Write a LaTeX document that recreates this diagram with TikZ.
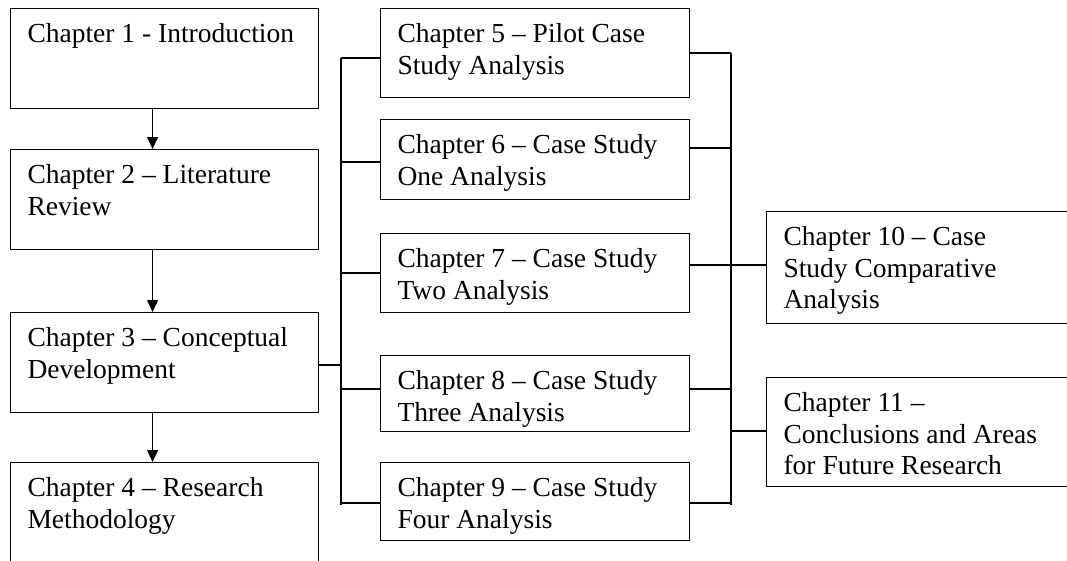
\documentclass[tikz,border=0pt]{standalone}
\usepackage{fontspec}
\setmainfont{Liberation Serif}
\usetikzlibrary{arrows.meta}

% Chapter box: name, left, top, width, height, text (units are pt, y grows downward)
\newcommand\chapbox[6]{%
  \node[chapter] (#1) at (#2,#3)
    {\parbox[t][\dimexpr#5pt-30pt\relax][t]{\dimexpr#4pt-34pt\relax}{\raggedright #6}};}

\begin{document}
\begin{tikzpicture}[x=1pt,y=-1pt,
  chapter/.style={draw, line width=1.1pt, anchor=north west, inner xsep=17pt,
    inner ysep=15pt, font=\fontsize{27.5}{31.6}\selectfont},
  link/.style={line width=1.1pt},
  flow/.style={line width=1.1pt, -{Triangle[length=12pt,width=11pt]}}]
\useasboundingbox (0,0) rectangle (1067,560);

% left column
\chapbox{c1}{10}{8}{308}{100}{Chapter 1 - Introduction}
\chapbox{c2}{10}{149}{308}{100}{Chapter 2 – Literature\\Review}
\chapbox{c3}{10}{312}{308}{100}{Chapter 3 – Conceptual\\Development}
\chapbox{c4}{10}{462}{308}{110}{Chapter 4 – Research\\Methodology}

% case study column
\chapbox{c5}{380}{8}{309}{89}{Chapter 5 – Pilot Case\\Study Analysis}
\chapbox{c6}{380}{119}{309}{80}{Chapter 6 – Case Study\\One Analysis}
\chapbox{c7}{380}{233}{309}{79}{Chapter 7 – Case Study\\Two Analysis}
\chapbox{c8}{380}{355}{309}{76}{Chapter 8 – Case Study\\Three Analysis}
\chapbox{c9}{380}{462}{309}{78}{Chapter 9 – Case Study\\Four Analysis}

% synthesis column
\chapbox{c10}{766}{211}{320}{112}{Chapter 10 – Case\\Study Comparative\\Analysis}
\chapbox{c11}{766}{377}{320}{109}{Chapter 11 –\\Conclusions and Areas\\for Future Research}

% sequential flow
\draw[flow] ([xshift=-12pt]c1.south) -- ([xshift=-12pt]c2.north);
\draw[flow] ([xshift=-12pt]c2.south) -- ([xshift=-12pt]c3.north);
\draw[flow] ([xshift=-12pt]c3.south) -- ([xshift=-12pt]c4.north);

% left bus
\coordinate (lt) at (341,58);
\coordinate (lb) at (341,505);
\draw[link] (lt) -- (lb);
\draw[link] (c3.east |- 0,365) -- (lt |- 0,365);
\draw[link] (lt) -- (c5.west |- lt);
\draw[link] (lt |- 0,162) -- (c6.west |- 0,162);
\draw[link] (lt |- 0,273) -- (c7.west |- 0,273);
\draw[link] (lt |- 0,389) -- (c8.west |- 0,389);
\draw[link] (lt |- 0,503) -- (c9.west |- 0,503);

% right bus
\coordinate (rt) at (731,53);
\coordinate (rb) at (731,505);
\draw[link] (rt) -- (rb);
\draw[link] (c5.east |- rt) -- (rt);
\draw[link] (c6.east |- 0,148) -- (rt |- 0,148);
\draw[link] (c7.east |- 0,265) -- (c10.west |- 0,265);
\draw[link] (c8.east |- 0,389) -- (rt |- 0,389);
\draw[link] (c9.east |- 0,503) -- (rt |- 0,503);
\draw[link] (rt |- 0,431) -- (c11.west |- 0,431);
\end{tikzpicture}
\end{document}
